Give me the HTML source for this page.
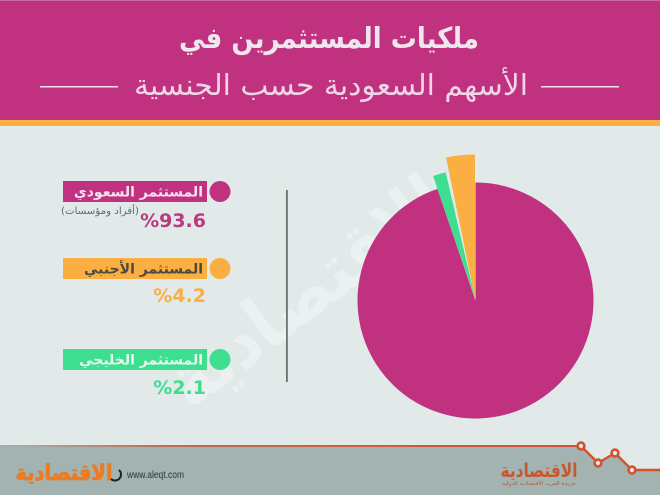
<!DOCTYPE html>
<html lang="ar">
<head>
<meta charset="utf-8">
<title>ملكيات المستثمرين في الأسهم السعودية حسب الجنسية</title>
<style>
html,body{margin:0;padding:0;width:660px;height:495px;overflow:hidden;background:#E1E9E9}
svg{display:block}
text{font-family:"DejaVu Sans","Liberation Sans",sans-serif}
</style>
</head>
<body>
<svg id="chart" xmlns="http://www.w3.org/2000/svg" width="660" height="495" viewBox="0 0 660 495">
  <rect x="0" y="0" width="660" height="495" fill="#E1E9E9"/>
  <text x="0" y="0" transform="translate(322,312) rotate(-37)" text-anchor="middle" font-size="74" font-weight="700" fill="#EBF1F1" direction="rtl" textLength="330" lengthAdjust="spacingAndGlyphs">الاقتصادية</text>

  <rect x="0" y="0" width="660" height="120" fill="#C0317F"/>
  <rect x="0" y="0" width="660" height="1" fill="#CF6BA3"/>
  <rect x="0" y="120" width="660" height="6" fill="#FBAE42"/>
  <text x="329" y="48" text-anchor="middle" direction="rtl" font-size="29" font-weight="700" fill="#EFE6EE" textLength="300" lengthAdjust="spacingAndGlyphs">ملكيات المستثمرين في</text>
  <text x="331" y="95" text-anchor="middle" direction="rtl" font-size="29" fill="#EFD5E5" textLength="394" lengthAdjust="spacingAndGlyphs">الأسهم السعودية حسب الجنسية</text>
  <rect x="40" y="86" width="78" height="1.5" fill="#F3E3EE"/>
  <rect x="541" y="86" width="78" height="1.5" fill="#F3E3EE"/>

  <g id="pie"></g>
  <g id="legend"></g>
  <text x="139" y="214" text-anchor="start" direction="rtl" font-size="10" fill="#5E6E70" textLength="78" lengthAdjust="spacingAndGlyphs">(أفراد ومؤسسات)</text>
  <rect x="286" y="190" width="1.8" height="192" fill="#62766F"/>

  <path d="M0 447H581L598 463L615 453L632 470H660V495H0Z" fill="#A2B3B2"/>
  <defs>
    <linearGradient id="fade" x1="0" x2="1" y1="0" y2="0">
      <stop offset="0" stop-color="#A2B3B2"/>
      <stop offset="0.3" stop-color="#C06A50"/>
      <stop offset="1" stop-color="#D2532C"/>
    </linearGradient>
  </defs>
  <rect x="0" y="445" width="581" height="2" fill="url(#fade)"/>
  <polyline points="581,446 598,463 615,453 632,470 660,470" fill="none" stroke="#D2532C" stroke-width="2.4"/>
  <circle cx="581" cy="446" r="3.4" fill="#E7EEEE" stroke="#D2532C" stroke-width="2.6"/>
  <circle cx="598" cy="463" r="3.4" fill="#E7EEEE" stroke="#D2532C" stroke-width="2.6"/>
  <circle cx="615" cy="453" r="3.4" fill="#E7EEEE" stroke="#D2532C" stroke-width="2.6"/>
  <circle cx="632" cy="470" r="3.4" fill="#E7EEEE" stroke="#D2532C" stroke-width="2.6"/>

  <text x="64" y="480" text-anchor="middle" direction="rtl" font-size="22" font-weight="700" fill="#EE7A22" stroke="#EE7A22" stroke-width="0.8" textLength="97" lengthAdjust="spacingAndGlyphs">الاقتصادية</text>
  <path d="M119 470A6 6 0 1 1 111 479" fill="none" stroke="#1E2422" stroke-width="2"/>
  <text x="127" y="478" font-size="10.5" fill="#263533" style="font-family:'Liberation Sans',sans-serif" textLength="57" lengthAdjust="spacingAndGlyphs">www.aleqt.com</text>
  <text x="539" y="477" text-anchor="middle" direction="rtl" font-size="19" font-weight="700" fill="#C9562F" textLength="77" lengthAdjust="spacingAndGlyphs">الاقتصادية</text>
  <text x="539" y="485" text-anchor="middle" direction="rtl" font-size="5" fill="#B5593A" textLength="74" lengthAdjust="spacingAndGlyphs">جريدة العرب الاقتصادية الدولية</text>
</svg>
<script>
const categories = ["المستثمر السعودي", "المستثمر الأجنبي", "المستثمر الخليجي"];
const shares = [93.6, 4.2, 2.1];
const valueLabels = ["%93.6", "%4.2", "%2.1"];

const NS = "http://www.w3.org/2000/svg";
const sliceColors = ["#C0317F", "#FBAE42", "#3DDE8F"];
const valueColors = ["#B93A80", "#FBAE42", "#3DDE8F"];
const pillTextColors = ["#F2E4EE", "#4A4A3E", "#EAF7EF"];
const sliceKeys = ["saudi", "foreign", "gulf"];

/* angular axis: the artwork uses its own degrees-per-percent, not a true 3.6 */
const mainDegPerUnit = 3.645;
const smallDegPerUnit = 2.77;
const sliceGap = 1.5;
function angleMain(v) { return v * mainDegPerUnit; }
function angleSmall(v) { return v * smallDegPerUnit; }

function wedgePath(cx, cy, r, a0, a1) {
  const toXY = function (a) {
    const t = a * Math.PI / 180;
    return [cx + r * Math.sin(t), cy - r * Math.cos(t)];
  };
  const p0 = toXY(a0);
  const p1 = toXY(a1);
  const large = Math.abs(a1 - a0) > 180 ? 1 : 0;
  return "M" + cx + " " + cy + "L" + p0[0] + " " + p0[1] +
    "A" + r + " " + r + " 0 " + large + " 1 " + p1[0] + " " + p1[1] + "Z";
}

const pie = document.getElementById("pie");

const mainSlice = document.createElementNS(NS, "path");
mainSlice.setAttribute("d", wedgePath(475.5, 300.5, 118, 0, angleMain(shares[0])));
mainSlice.setAttribute("fill", sliceColors[0]);


pie.appendChild(mainSlice);

const foreignSweep = angleSmall(shares[1]);
const foreignSlice = document.createElementNS(NS, "path");
foreignSlice.setAttribute("d", wedgePath(475, 298, 143.5, -foreignSweep, 0));
foreignSlice.setAttribute("fill", sliceColors[1]);


pie.appendChild(foreignSlice);

const gulfEnd = -foreignSweep - sliceGap;
const gulfSlice = document.createElementNS(NS, "path");
gulfSlice.setAttribute("d", wedgePath(475, 298, 129, gulfEnd - angleSmall(shares[2]), gulfEnd));
gulfSlice.setAttribute("fill", sliceColors[2]);


pie.appendChild(gulfSlice);

const legend = document.getElementById("legend");
const legendTops = [181, 258, 349];
const valueBaselines = [227, 302, 394];

categories.forEach(function (name, i) {
  const key = sliceKeys[i];
  const top = legendTops[i];

  const pill = document.createElementNS(NS, "rect");
  pill.setAttribute("x", 63);
  pill.setAttribute("y", top);
  pill.setAttribute("width", 144);
  pill.setAttribute("height", 21);
  pill.setAttribute("fill", sliceColors[i]);
  
  
  legend.appendChild(pill);

  const dot = document.createElementNS(NS, "circle");
  dot.setAttribute("cx", 220);
  dot.setAttribute("cy", top + 10.5);
  dot.setAttribute("r", 10.5);
  dot.setAttribute("fill", sliceColors[i]);
  
  
  legend.appendChild(dot);

  const label = document.createElementNS(NS, "text");
  label.setAttribute("x", 203);
  label.setAttribute("y", top + 15.5);
  label.setAttribute("text-anchor", "start");
  label.setAttribute("direction", "rtl");
  label.setAttribute("font-size", "14");
  label.setAttribute("font-weight", "700");
  label.setAttribute("fill", pillTextColors[i]);
  label.textContent = name;
  
  
  legend.appendChild(label);

  const value = document.createElementNS(NS, "text");
  value.setAttribute("x", 206);
  value.setAttribute("y", valueBaselines[i]);
  value.setAttribute("text-anchor", "end");
  value.setAttribute("font-size", "19");
  value.setAttribute("font-weight", "700");
  value.setAttribute("fill", valueColors[i]);
  value.textContent = valueLabels[i];
  
  
  legend.appendChild(value);
});
</script>
</body>
</html>
